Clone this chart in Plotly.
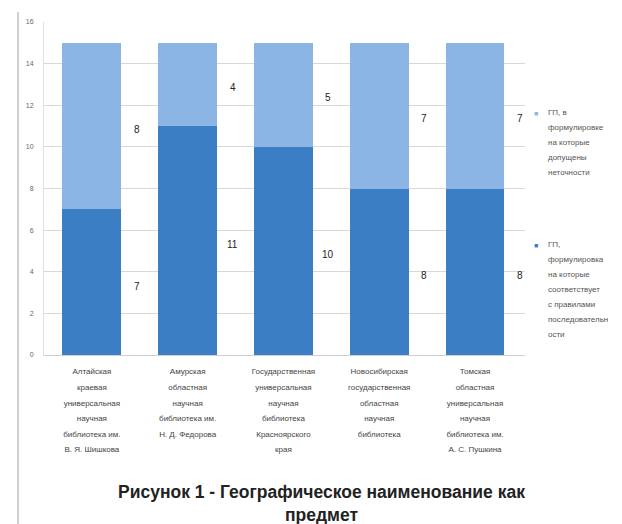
import plotly.graph_objects as go

category_lines = [
    ["Алтайская", "краевая", "универсальная", "научная", "библиотека им.", "В. Я. Шишкова"],
    ["Амурская", "областная", "научная", "библиотека им.", "Н. Д. Федорова"],
    ["Государственная", "универсальная", "научная", "библиотека", "Красноярского", "края"],
    ["Новосибирская", "государственная", "областная", "научная", "библиотека"],
    ["Томская", "областная", "универсальная", "научная", "библиотека им.", "А. С. Пушкина"],
]
correct_values = [7, 11, 10, 8, 8]
inexact_values = [8, 4, 5, 7, 7]
series_lines = [
    ["ГП,", "формулировка", "на которые", "соответствует", "с правилами", "последовательн", "ости"],
    ["ГП, в", "формулировке", "на которые", "допущены", "неточности"],
]
title_text = "Рисунок 1 - Географическое наименование как<br>предмет"

SMALL = "<span style='font-size:8px'>{}</span>"
categories = ["<br>".join(l) for l in category_lines]
ticktexts = ["<br>".join(SMALL.format(s) for s in l) for l in category_lines]
legend_texts = ["<br>".join(SMALL.format(s) for s in l) for l in series_lines]

dark = "#3b7ec4"
light = "#8bb5e5"

fig = go.Figure()
fig.add_trace(go.Bar(x=categories, y=correct_values, name=" ".join(series_lines[0]),
                     marker=dict(color=dark, line=dict(width=0)), showlegend=False))
fig.add_trace(go.Bar(x=categories, y=inexact_values, name=" ".join(series_lines[1]),
                     marker=dict(color=light, line=dict(width=0)), showlegend=False))

for i, c in enumerate(categories):
    fig.add_annotation(x=c, y=correct_values[i] / 2, text=str(correct_values[i]),
                       showarrow=False, xshift=45, yshift=-4,
                       font=dict(size=10, color="#222", family="Liberation Sans"))
    fig.add_annotation(x=c, y=correct_values[i] + inexact_values[i] / 2,
                       text=str(inexact_values[i]),
                       showarrow=False, xshift=45, yshift=-3,
                       font=dict(size=10, color="#222", family="Liberation Sans"))

# legend drawn as annotations (light series on top)
legend_items = [(light, legend_texts[1], 0.724), (dark, legend_texts[0], 0.330)]
for color, txt, ymid in legend_items:
    fig.add_annotation(xref="paper", yref="paper", x=1.023, y=ymid, text="■",
                       showarrow=False, xanchor="center", yanchor="middle",
                       font=dict(size=7, color=color))
    fig.add_annotation(xref="paper", yref="paper", x=1.044, y=ymid + 0.0225,
                       text=txt, showarrow=False, xanchor="left", yanchor="top",
                       align="left", font=dict(size=11.5, color="#555", family="Liberation Sans"))

fig.add_annotation(xref="paper", yref="paper", x=0.576, y=-0.375, yanchor="top",
                   text="<b>" + title_text.replace("<br>", "</b><br><b>") + "</b>",
                   showarrow=False, align="center",
                   font=dict(size=17.5, color="#222", family="Liberation Sans"))

fig.update_layout(
    width=614, height=516,
    margin=dict(l=36, r=97, t=14, b=169, autoexpand=False),
    barmode="stack", bargap=0.385,
    paper_bgcolor="white", plot_bgcolor="white",
    font=dict(family="Liberation Sans", size=8, color="#444"),
    showlegend=False,
    xaxis=dict(showgrid=False, tickmode="array", tickvals=categories, ticktext=ticktexts,
               tickfont=dict(size=12, color="#444"), ticklabelstandoff=4,
               showline=True, linecolor="#d0d0d0", ticks=""),
    yaxis=dict(range=[0, 16], dtick=2, showgrid=True, gridcolor="#d8d8d8",
               tickfont=dict(size=7, color="#666"), showline=True,
               linecolor="#e0e0e0", zeroline=False, ticks="", ticklabelstandoff=8),
)
fig.add_shape(type="line", xref="paper", yref="paper", x0=-0.054, x1=-0.054,
              y0=-0.55, y1=1.03, line=dict(color="#cfcfcf", width=2))

fig.write_html("out.html")
